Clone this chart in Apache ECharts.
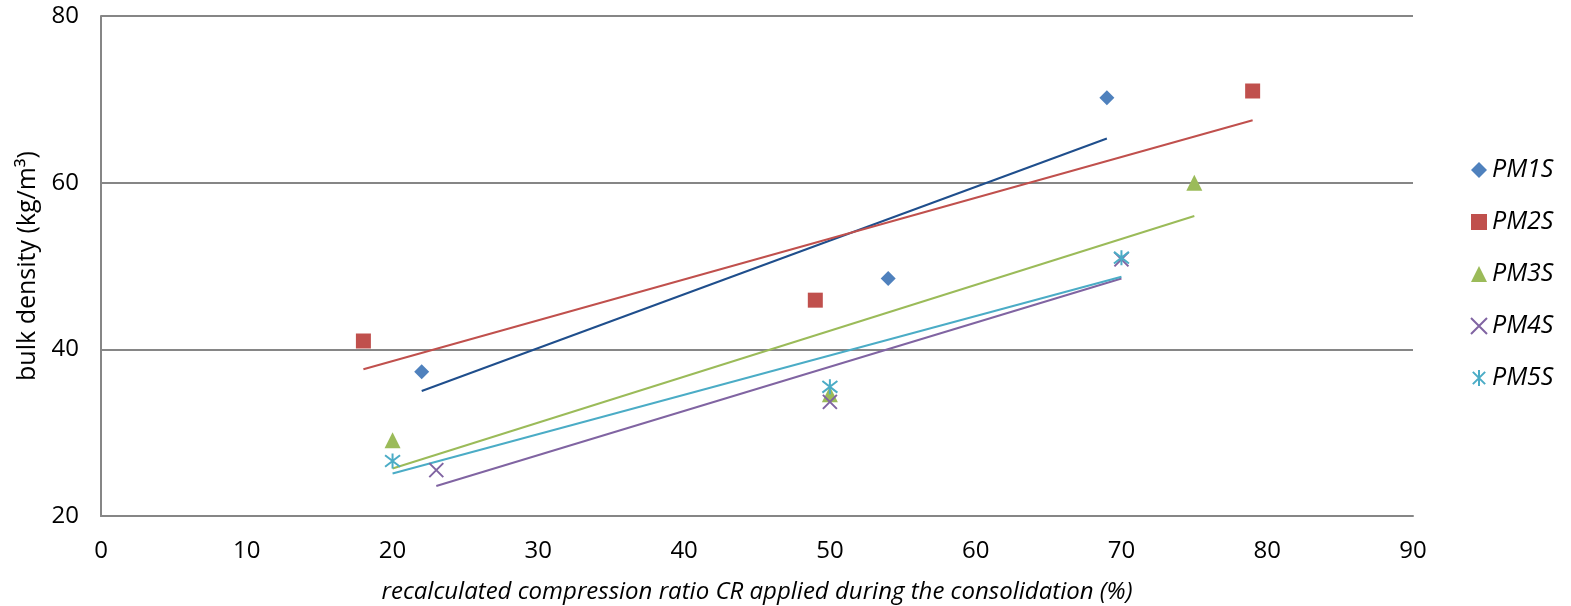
<!DOCTYPE html>
<html><head><meta charset="utf-8">
<script src="https://cdn.jsdelivr.net/npm/echarts@6/dist/echarts.min.js"></script>
<style>html,body{margin:0;padding:0;background:#fff}#c{width:1571px;height:606px}</style>
</head><body><div id="c"></div>
<script>
const seriesNames = ['PM1S','PM2S','PM3S','PM4S','PM5S'];
const pm1s = [[22,37.3],[54,48.5],[69,70.2]];
const pm2s = [[18,41.0],[49,45.9],[79,71.0]];
const pm3s = [[20,29.1],[50,34.6],[75,60.0]];
const pm4s = [[23,25.5],[50,33.7],[70,50.8]];
const pm5s = [[20,26.6],[50,35.5],[70,51.0]];
// trendline endpoints
const trend1 = [[22,35.0],[69,65.3]];
const trend2 = [[18,37.6],[79,67.5]];
const trend3 = [[20,25.7],[75,56.0]];
const trend4 = [[23,23.6],[70,48.5]];
const trend5 = [[20,25.1],[70,48.7]];
const xTicks = [0,10,20,30,40,50,60,70,80,90];
const yTicks = [20,40,60,80];

const colors = ['#4F81BD','#C0504D','#9BBB59','#8064A2','#4BACC6'];
const trendColors = ['#1F4E8C','#C0504D','#9BBB59','#8064A2','#4BACC6'];
const symbols = ['diamond','rect','triangle',
  'path://M0,0L10,10M10,0L0,10',
  'path://M0,0L10,10M10,0L0,10M5,-1.5L5,11.5'];
const sizes = [15,15,16,14,15];
const pts = [pm1s,pm2s,pm3s,pm4s,pm5s];
const trends = [trend1,trend2,trend3,trend4,trend5];
const font = '"Open Sans", sans-serif';

const series = [];
trends.forEach((t,i)=>series.push({
  type:'line', name:'trend'+i, data:t, showSymbol:false, symbol:'none',
  lineStyle:{color:trendColors[i], width:2}, silent:true, z:2
}));
pts.forEach((p,i)=>{
  const stroke = i>=3;
  series.push({
    type:'scatter', name:seriesNames[i], data:p, symbol:symbols[i], symbolSize:sizes[i], z:3,
    itemStyle: stroke ? {color:'rgba(0,0,0,0)', borderColor:colors[i], borderWidth:2, opacity:1}
                      : {color:colors[i], opacity:1}
  });
});

const chart = echarts.init(document.getElementById('c'));
chart.setOption({
  animation:false,
  grid:{left:101, right:158, top:16, bottom:90, containLabel:false, outerBoundsMode:'none'},
  xAxis:{
    type:'value', min:0, max:90, interval:10,
    axisLine:{show:true, lineStyle:{color:'#868686', width:2}},
    axisTick:{show:false}, splitLine:{show:false},
    axisLabel:{color:'#000', fontSize:24, fontFamily:font, margin:23,
      formatter:v=>xTicks.includes(v)?String(v):''},
    name:'recalculated compression ratio CR applied during the consolidation (%)',
    nameLocation:'middle', nameGap:64,
    nameTextStyle:{color:'#000', fontSize:24, fontStyle:'italic', fontFamily:font}
  },
  yAxis:{
    type:'value', min:20, max:80, interval:20,
    axisLine:{show:true, lineStyle:{color:'#868686', width:2}},
    axisTick:{show:false},
    splitLine:{show:true, lineStyle:{color:'#868686', width:2}},
    axisLabel:{color:'#000', fontSize:24, fontFamily:font, margin:22,
      formatter:v=>yTicks.includes(v)?String(v):''},
    name:'bulk density (kg/m³)', nameLocation:'middle', nameGap:60, nameRotate:90,
    nameTextStyle:{color:'#000', fontSize:25, fontFamily:font}
  },
  legend:{
    data:seriesNames.map((n,i)=>({name:n})), orient:'vertical', left:1465, top:151,
    itemWidth:16, itemHeight:16, itemGap:24,
    textStyle:{color:'#000', fontSize:25, fontStyle:'italic', fontFamily:font, lineHeight:28},
    selectedMode:false
  },
  series:series
});
</script></body></html>
